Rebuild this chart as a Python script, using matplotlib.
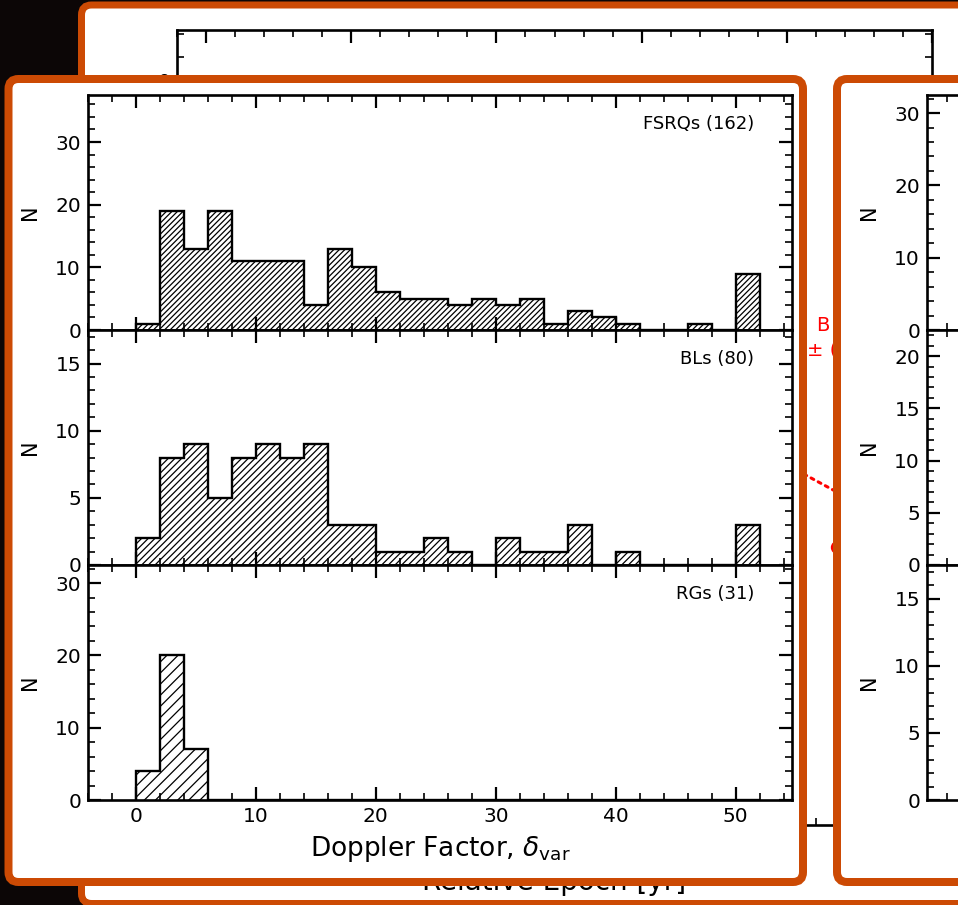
import numpy as np
import matplotlib
matplotlib.use("Agg")
import matplotlib.pyplot as plt
from matplotlib.patches import FancyBboxPatch
from matplotlib.ticker import MultipleLocator
from matplotlib.transforms import IdentityTransform

# ---------------- data ----------------
bin_edges = list(range(0, 54, 2))          # Doppler-factor bins (width 2), 0..52
fsrq_counts = [1, 19, 13, 19, 11, 11, 11, 4, 13, 10, 6, 5, 5, 4, 5, 4, 5, 1, 3, 2, 1, 0, 0, 1, 0, 9]
bl_counts = [2, 8, 9, 5, 8, 9, 8, 9, 3, 3, 1, 1, 2, 1, 0, 2, 1, 1, 3, 0, 1, 0, 0, 0, 0, 3]
rg_counts = [4, 20, 7, 0, 0, 0, 0, 0, 0, 0, 0, 0, 0, 0, 0, 0, 0, 0, 0, 0, 0, 0, 0, 0, 0, 0]
panel_labels = ["FSRQs (162)", "BLs (80)", "RGs (31)"]
x_label = r"Doppler Factor, $\delta_{\rm var}$"
back_xlabel = "Relative Epoch [yr]"

# back (partly hidden) plot: visible bits of a red fit
fit_epoch = [4.02, 4.44]
fit_value = [4.20, 4.56]
point_epoch = [4.349]
point_value = [5.08]

W, H, DPI = 958, 905, 100
ORANGE = "#cc4a04"
BG = "#0c0606"

fig = plt.figure(figsize=(W / DPI, H / DPI), dpi=DPI, facecolor=BG)


def rect(x0, y0, x1, y1):
    """pixel box (top-left origin) -> figure fraction rect"""
    return [x0 / W, 1 - y1 / H, (x1 - x0) / W, (y1 - y0) / H]


def panel(x0, y0, x1, y1, z, lw=8):
    p = FancyBboxPatch((x0, H - y1), x1 - x0, y1 - y0,
                       boxstyle="round,pad=0,rounding_size=10",
                       facecolor="white", edgecolor=ORANGE,
                       linewidth=lw * 72 / DPI, transform=IdentityTransform(),
                       zorder=z)
    fig.patches.append(p)
    p.set_figure(fig)


def style_axes(ax, fs=14.5):
    for s in ax.spines.values():
        s.set_linewidth(1.9)
    ax.tick_params(which="both", direction="in", top=True, right=True,
                   labelsize=fs, pad=5, colors="black")
    ax.tick_params(which="major", length=9.5, width=1.6)
    ax.tick_params(which="minor", length=5, width=1.2)


# ---------------- back panel ----------------
panel(81.5, 5, 1100, 903.5, 0, lw=7)
axb = fig.add_axes(rect(177, 30, 932, 825), zorder=1)
axb.set_facecolor("none")
axb.set_xlim(-0.2, 5.0)
axb.set_ylim(8.098, -0.5435)
axb.xaxis.set_major_locator(MultipleLocator(1))
axb.xaxis.set_minor_locator(MultipleLocator(0.2))
axb.yaxis.set_major_locator(MultipleLocator(1))
axb.yaxis.set_minor_locator(MultipleLocator(0.25))
style_axes(axb)
axb.plot(fit_epoch, fit_value, ls=":", color="red", lw=2.2,
         dash_capstyle="round")
axb.plot(point_epoch, point_value, "o", color="red", ms=8.6)
axb.text(0.836, 0.628, "knot C0", color="red", fontsize=14,
         ha="right", va="center", transform=axb.transAxes)
axb.text(0.848, 0.628, "B fit", color="red", fontsize=14,
         ha="left", va="center", transform=axb.transAxes)
axb.text(0.828, 0.597, "0.52", color="red", fontsize=14,
         ha="right", va="center", transform=axb.transAxes)
axb.text(0.835, 0.597, "\u00b1 (0.04)", color="red", fontsize=14,
         ha="left", va="center", transform=axb.transAxes)
fig.text(554.5 / W, 1 - 890 / H, back_xlabel, fontsize=20, ha="center",
         va="baseline", zorder=1.5)

# ---------------- front panels ----------------
panel(8.5, 79, 803, 882, 2)
panel(837, 79, 1100, 882, 2)

tops = [95, 330, 565]
ph = 235
counts = [fsrq_counts, bl_counts, rg_counts]
left_ylims = [37.5, 17.5, 32.5]
left_major = [10, 5, 10]
left_minor = [2, 1, 2]
right_ylims = [32.5, 22.5, 17.5]
right_major = [10, 5, 5]
right_minor = [2, 1, 1]
hatches = ["//////", "/////", "///"]

plt.rcParams["hatch.linewidth"] = 0.9

for i in range(3):
    ax = fig.add_axes(rect(88, tops[i], 792, tops[i] + ph), zorder=3)
    ax.stairs(counts[i], bin_edges, fill=True, facecolor="none",
              edgecolor="black", hatch=hatches[i], linewidth=1.7)
    ax.set_xlim(-4, 54.7)
    ax.set_ylim(0, left_ylims[i])
    ax.xaxis.set_major_locator(MultipleLocator(10))
    ax.xaxis.set_minor_locator(MultipleLocator(2))
    ax.yaxis.set_major_locator(MultipleLocator(left_major[i]))
    ax.yaxis.set_minor_locator(MultipleLocator(left_minor[i]))
    style_axes(ax)
    ax.set_ylabel("N", fontsize=15, labelpad=11)
    ax.text(0.946, 0.877, panel_labels[i], fontsize=13, ha="right",
            va="center", transform=ax.transAxes)
    if i < 2:
        ax.tick_params(labelbottom=False)
    else:
        ax.set_xlabel(x_label, fontsize=19, labelpad=6)

    axr = fig.add_axes(rect(927, tops[i], 1655, tops[i] + ph), zorder=3)
    axr.set_xlim(-5.67, 55)
    axr.set_ylim(0, right_ylims[i])
    axr.xaxis.set_major_locator(MultipleLocator(10))
    axr.xaxis.set_minor_locator(MultipleLocator(2))
    axr.yaxis.set_major_locator(MultipleLocator(right_major[i]))
    axr.yaxis.set_minor_locator(MultipleLocator(right_minor[i]))
    style_axes(axr)
    axr.set_ylabel("N", fontsize=15, labelpad=11)
    if i < 2:
        axr.tick_params(labelbottom=False)

fig.savefig("out.png", dpi=DPI, facecolor=BG)
